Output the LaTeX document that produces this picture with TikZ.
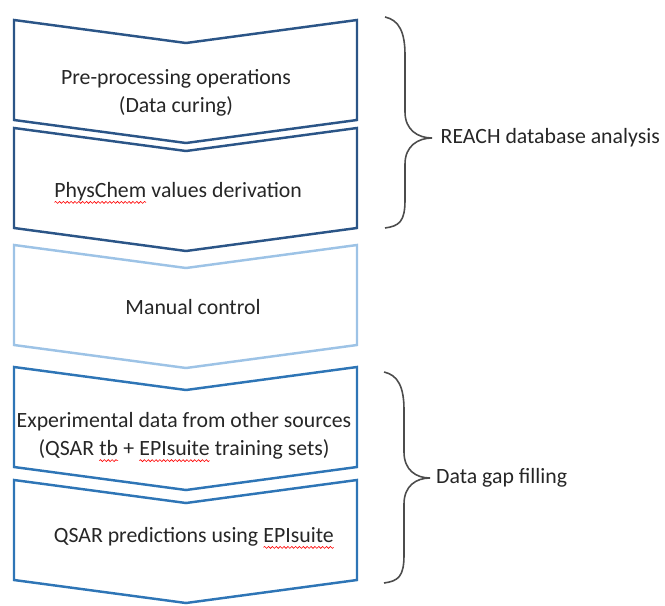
\documentclass[tikz,border=0pt]{standalone}
\usepackage{fontspec}
\setmainfont{Carlito}
\usepackage{tikz}
\usetikzlibrary{positioning,decorations.pathmorphing}

\definecolor{navy}{HTML}{2B5587}
\definecolor{paleblue}{HTML}{9DC3E6}
\definecolor{midblue}{HTML}{2E75B6}
\definecolor{txt}{HTML}{262626}

% red wavy spell-check underline
\newcommand\spellerr[1]{\tikz[baseline=(w.base), x=1cm, y=1cm]{%
  \node[inner sep=0pt, outer sep=0pt] (w) {#1};
  \draw[red, line width=0.35pt, decorate, decoration={snake, amplitude=0.55pt, segment length=2.2pt}]
    ([yshift=-2.8pt]w.base west) -- ([yshift=-2.8pt]w.base east);}}

\begin{document}
\begin{tikzpicture}[
x=0.02cm, y=-0.02cm,
chev/.style={draw=#1, line width=1.4pt, line join=miter},
lbl/.style={text=txt, align=center, font=\fontsize{12.4}{16.2}\selectfont},
note/.style={text=txt, anchor=west, font=\fontsize{12.4}{16.2}\selectfont},
brace/.style={draw=black!70, line width=0.9pt}
]
\useasboundingbox (0,0) rectangle (665,605);

% chevrons: top edge y / colour
\foreach \t/\c in {20/navy, 128/navy, 245/paleblue, 367/midblue, 480/midblue}
  \draw[chev=\c] (14,\t) -- (186,\t+23) -- (357,\t) -- (357,\t+100)
    -- (186,\t+123) -- (14,\t+100) -- cycle;

\node[lbl] (pre) at (176,93) {Pre-processing operations\\(Data curing)};
\node[lbl] (phys) at (178,193) {\spellerr{PhysChem} values derivation};
\node[lbl] (manual) at (193,307) {Manual control};
\node[lbl] (exp) at (184,437) {Experimental data from other sources\\(QSAR \spellerr{tb} + \spellerr{EPIsuite} training sets)};
\node[lbl] (qsar) at (194,538) {QSAR predictions using \spellerr{EPIsuite}};

% braces
\coordinate (reachtip) at (432,138);
\coordinate (gaptip) at (430,478);
\draw[brace] (385,17) .. controls (399,20) and (405,32) .. (405,55) -- (405,112)
  .. controls (405,130) and (418,138) .. (reachtip)
  .. controls (418,138) and (405,146) .. (405,164) -- (405,200)
  .. controls (405,222) and (399,226) .. (385,228);
\draw[brace] (384,372) .. controls (398,375) and (404,387) .. (404,410) -- (404,452)
  .. controls (404,470) and (416,478) .. (gaptip)
  .. controls (416,478) and (404,486) .. (404,504) -- (404,555)
  .. controls (404,577) and (398,581) .. (384,583);

\node[note, right=0.05cm of reachtip] (reach) {REACH database analysis};
\node[note, right=0cm of gaptip] (gap) {Data gap filling};
\end{tikzpicture}
\end{document}
